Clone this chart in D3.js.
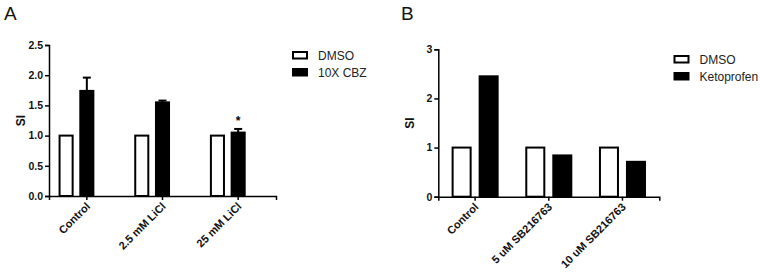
<!DOCTYPE html>
<html>
<head>
<meta charset="utf-8">
<script src="https://cdn.jsdelivr.net/npm/d3@7"></script>
<style>
  body { margin: 0; background: #fff; }
  svg { display: block; font-family: Arial, "Liberation Sans", sans-serif; }
  .axis path, .axis line { stroke: #000; stroke-width: 1.5; }
  .axis text { font-size: 10.5px; font-weight: bold; fill: #111; }
  .x-label { font-size: 11px; font-weight: bold; fill: #111; }
  .y-label { font-size: 12px; font-weight: bold; fill: #111; }
  .legend-text { font-size: 12px; fill: #222; }
  .panel-title { font-size: 19px; fill: #111; }
</style>
</head>
<body>
<svg id="chart" width="760" height="275"></svg>
<script>
// panel A
const categoriesA = ['Control', '2.5 mM LiCl', '25 mM LiCl']
const seriesA = ['DMSO', '10X CBZ']
const dmsoA = [1, 1, 1]
const cbzA = [1.74, 1.55, 1.05]
const cbzErrA = [0.22, 0.03, 0.06]
const sigA = ['', '', '*']
const yTicksA = [0, 0.5, 1.0, 1.5, 2.0, 2.5]

// panel B
const categoriesB = ['Control', '5 uM SB216763', '10 uM SB216763']
const seriesB = ['DMSO', 'Ketoprofen']
const dmsoB = [1, 1, 1]
const ketoB = [2.45, 0.84, 0.71]
const yTicksB = [0, 1, 2, 3]

const $svg = d3.select('#chart')

const PANELS = [
  {
    title: 'A', titleX: 4, left: 49, right: 276, top: 45, bottom: 196,
    categories: categoriesA, series: seriesA,
    values: [dmsoA, cbzA], errors: [null, cbzErrA], sig: sigA,
    ticks: yTicksA, fmt: d3.format('.1f'),
    // prism keeps room for a third (empty) column here
    slots: [...seriesA, ''], padIn: 0.37, padOut: 0.51,
    legendX: 293, legendY: 52
  },
  {
    title: 'B', titleX: 401, left: 438.3, right: 659.3, top: 49.3, bottom: 196.7,
    categories: categoriesB, series: seriesB,
    values: [dmsoB, ketoB], errors: [null, null], sig: null,
    ticks: yTicksB, fmt: d3.format('d'),
    slots: seriesB, padIn: 0.333, padOut: 0.53,
    legendX: 674.5, legendY: 56
  }
]

function drawPanel(p) {
  const $g = $svg.append('g')

  const xScale = d3.scaleBand()
    .domain(p.categories)
    .range([p.left, p.right])
    .padding(0)

  const inner = d3.scaleBand()
    .domain(p.slots)
    .range([0, xScale.bandwidth()])
    .paddingInner(p.padIn)
    .paddingOuter(p.padOut)

  const yScale = d3.scaleLinear()
    .domain([0, d3.max(p.ticks)])
    .range([p.bottom, p.top])

  // bars
  p.series.forEach((s, si) => {
    $g.selectAll(null)
      .data(p.categories)
      .enter()
      .append('rect')
      .attr('x', d => xScale(d) + inner(s))
      .attr('y', (d, i) => yScale(p.values[si][i]))
      .attr('width', inner.bandwidth())
      .attr('height', (d, i) => yScale(0) - yScale(p.values[si][i]))
      .attr('fill', si === 0 ? '#fff' : '#000')
      .attr('stroke', '#000')
      .attr('stroke-width', 2)

    if (p.errors[si]) {
      const errs = p.errors[si]
      const cx = d => xScale(d) + inner(s) + inner.bandwidth() / 2
      $g.selectAll(null)
        .data(p.categories)
        .enter()
        .append('line')
        .attr('x1', cx).attr('x2', cx)
        .attr('y1', (d, i) => yScale(p.values[si][i]))
        .attr('y2', (d, i) => yScale(p.values[si][i] + errs[i]))
        .attr('stroke', '#000').attr('stroke-width', 2)
      $g.selectAll(null)
        .data(p.categories)
        .enter()
        .append('line')
        .attr('x1', d => cx(d) - 4).attr('x2', d => cx(d) + 4)
        .attr('y1', (d, i) => yScale(p.values[si][i] + errs[i]))
        .attr('y2', (d, i) => yScale(p.values[si][i] + errs[i]))
        .attr('stroke', '#000').attr('stroke-width', 2)
      if (p.sig) {
        $g.selectAll(null)
          .data(p.categories)
          .enter()
          .append('text')
          .attr('x', cx)
          .attr('y', (d, i) => yScale(p.values[si][i] + errs[i]) - 4)
          .attr('text-anchor', 'middle')
          .style('font-size', '12px')
          .style('font-weight', 'bold')
          .text((d, i) => p.sig[i])
      }
    }
  })

  // y axis
  $g.append('g')
    .attr('class', 'axis y-axis')
    .attr('transform', `translate(${p.left}, 0)`)
    .call(d3.axisLeft(yScale).tickValues(p.ticks).tickFormat(p.fmt).tickSizeOuter(0).tickSize(4).tickPadding(2))

  // x axis
  $g.append('g')
    .attr('class', 'axis x-axis')
    .attr('transform', `translate(0, ${p.bottom})`)
    .call(d3.axisBottom(xScale).tickSizeOuter(0).tickSize(4).tickFormat(''))

  $g.selectAll('.x-label')
    .data(p.categories)
    .enter()
    .append('text')
    .attr('class', 'x-label')
    .attr('text-anchor', 'end')
    .attr('transform', d => `translate(${xScale(d) + xScale.bandwidth() / 2 + 4}, ${p.bottom + 11}) rotate(-45)`)
    .text(d => d)

  $g.append('text')
    .attr('class', 'y-label')
    .attr('text-anchor', 'middle')
    .attr('transform', `translate(${p.left - 24}, ${(p.top + p.bottom) / 2}) rotate(-90)`)
    .text('SI')

  $g.append('text')
    .attr('class', 'panel-title')
    .attr('x', p.titleX)
    .attr('y', 20)
    .text(p.title)

  // legend
  const $legend = $g.append('g')
    .attr('transform', `translate(${p.legendX}, ${p.legendY})`)
  p.series.forEach((s, si) => {
    $legend.append('rect')
      .attr('x', 0)
      .attr('y', si * 17)
      .attr('width', 14)
      .attr('height', 6.5)
      .attr('fill', si === 0 ? '#fff' : '#000')
      .attr('stroke', '#000')
      .attr('stroke-width', 2)
    $legend.append('text')
      .attr('class', 'legend-text')
      .attr('x', 25)
      .attr('y', si * 17 + 8)
      .text(s)
  })
}

PANELS.forEach(drawPanel)
</script>
</body>
</html>
